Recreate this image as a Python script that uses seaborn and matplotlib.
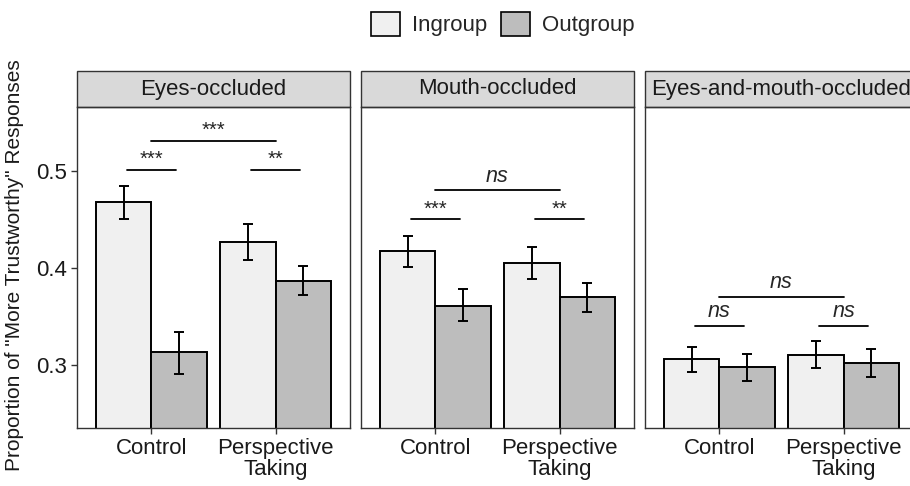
import matplotlib
matplotlib.use('Agg')
import matplotlib.pyplot as plt
import pandas as pd
import seaborn as sns
from matplotlib.patches import Patch, Rectangle

# data
panels = ['Eyes-occluded', 'Mouth-occluded', 'Eyes-and-mouth-occluded']
conditions = ['Control', 'Perspective Taking']
tick_labels = ['Control', 'Perspective\nTaking']
groups = ['Ingroup', 'Outgroup']

# means, per panel: [Control-In, Control-Out, PT-In, PT-Out]
means_eyes = [0.468, 0.313, 0.4265, 0.387]
means_mouth = [0.4175, 0.361, 0.405, 0.370]
means_both = [0.306, 0.298, 0.310, 0.302]
lo_eyes = [0.450, 0.291, 0.4085, 0.3725]
hi_eyes = [0.485, 0.334, 0.445, 0.402]
lo_mouth = [0.401, 0.345, 0.389, 0.355]
hi_mouth = [0.433, 0.378, 0.422, 0.385]
lo_both = [0.293, 0.283, 0.297, 0.288]
hi_both = [0.319, 0.311, 0.325, 0.316]

# significance: (within control, across, within PT) labels and heights
sig_labels = [('***', '***', '**'), ('***', 'ns', '**'), ('ns', 'ns', 'ns')]
sig_within_y = [0.501, 0.450, 0.340]
sig_across_y = [0.531, 0.480, 0.370]

rows = []
for p, m, lo, hi in zip(panels, [means_eyes, means_mouth, means_both],
                        [lo_eyes, lo_mouth, lo_both], [hi_eyes, hi_mouth, hi_both]):
    i = 0
    for c in conditions:
        for g in groups:
            rows.append(dict(panel=p, condition=c, group=g, prop=m[i], lo=lo[i], hi=hi[i]))
            i += 1
df = pd.DataFrame(rows)

sns.set_style('white')
plt.rcParams['font.family'] = ['Liberation Sans', 'DejaVu Sans']

W, H = 910, 486
fig = plt.figure(figsize=(W / 100, H / 100), dpi=100)
palette = {'Ingroup': '#F0F0F0', 'Outgroup': '#BDBDBD'}
edge = '#333333'
txt = '#1a1a1a'

panel_left = [77, 361, 645]
panel_w = 273
top, bottom = 107, 428
strip_h = 36

for k, p in enumerate(panels):
    ax = fig.add_axes([panel_left[k] / W, (H - bottom) / H, panel_w / W, (bottom - top) / H])
    sub = df[df['panel'] == p]
    sns.barplot(data=sub, x='condition', y='prop', hue='group', order=conditions,
                hue_order=groups, palette=palette, width=0.9, gap=0,
                edgecolor='black', linewidth=1.4, errorbar=None, legend=False, ax=ax)
    # error bars from the bar containers
    for gi, g in enumerate(groups):
        cont = ax.containers[gi]
        for ci, c in enumerate(conditions):
            bar = cont[ci]
            xc = bar.get_x() + bar.get_width() / 2
            r = sub[(sub['condition'] == c) & (sub['group'] == g)].iloc[0]
            ax.errorbar(xc, r['prop'], yerr=[[r['prop'] - r['lo']], [r['hi'] - r['prop']]],
                        fmt='none', ecolor='black', elinewidth=1.4, capsize=3.5, capthick=1.4)

    # significance lines
    sl = sig_labels[k]
    for (x0, x1, y, lab) in [(-0.2, 0.2, sig_within_y[k], sl[0]),
                             (0.0, 1.0, sig_across_y[k], sl[1]),
                             (0.8, 1.2, sig_within_y[k], sl[2])]:
        ax.plot([x0, x1], [y, y], color='black', lw=1.3)
        if lab == 'ns':
            ax.text((x0 + x1) / 2, y + 0.004, lab, ha='center', va='bottom',
                    fontsize=15.5, style='italic')
        else:
            ax.text((x0 + x1) / 2, y + 0.001, lab, ha='center', va='bottom', fontsize=14.5)

    ax.set_xlim(-0.6, 1.6)
    ax.set_ylim(0.235, 0.566)
    ax.set_xlabel('')
    ax.set_ylabel('')
    ax.set_xticks([0, 1])
    ax.set_xticklabels(tick_labels, fontsize=16, color=txt, linespacing=1.0)
    ax.tick_params(axis='x', length=4, width=1, color=edge, pad=3, bottom=True)
    if k == 0:
        ax.set_yticks([0.3, 0.4, 0.5])
        ax.set_yticklabels(['0.3', '0.4', '0.5'], fontsize=16, color=txt)
        ax.tick_params(axis='y', length=4, width=1, color=edge, pad=3, left=True)
    else:
        ax.set_yticks([])
    for s in ax.spines.values():
        s.set_color(edge)
        s.set_linewidth(1.0)
        s.set_visible(True)

    # facet strip
    sh = strip_h / (bottom - top)
    ax.add_patch(Rectangle((0, 1), 1, sh, transform=ax.transAxes, facecolor='#D9D9D9',
                           edgecolor=edge, lw=1.0, clip_on=False))
    ax.text(0.5, 1 + sh / 2, p, transform=ax.transAxes, ha='center', va='center',
            fontsize=16, color=txt)

fig.text(15 / W, 1 - 265 / H, 'Proportion of "More Trustworthy" Responses', rotation=90,
         ha='center', va='center', fontsize=15, color=txt)

handles = [Patch(facecolor=palette[g], edgecolor='black', lw=1.2, label=g) for g in groups]
fig.legend(handles=handles, loc='center', bbox_to_anchor=(503 / W, 1 - 24 / H), ncol=2,
           frameon=False, fontsize=16, handlelength=1.3, handleheight=1.3,
           handletextpad=0.55, columnspacing=0.6)

fig.savefig('out.png', dpi=100)
